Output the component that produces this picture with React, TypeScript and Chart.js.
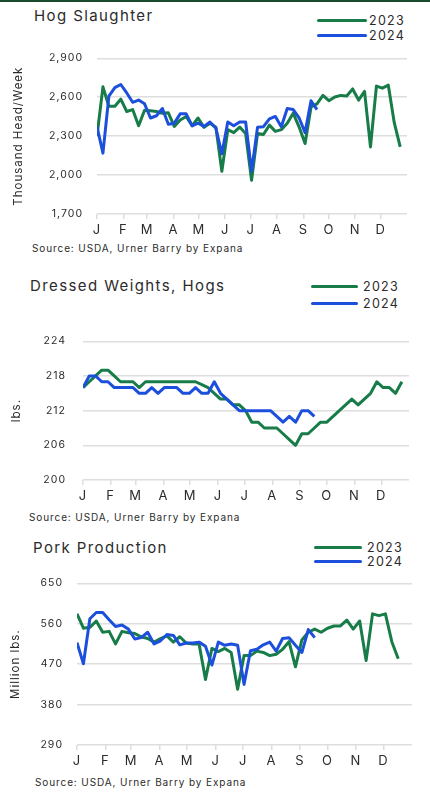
import React, { useEffect, useRef } from "react";
import { Chart, registerables } from "chart.js";

Chart.register(...registerables);

const FONT = "Inter, 'Noto Sans', sans-serif";
const TEXT = "#2b2b2b";
const GREEN = "#177c47";
const BLUE = "#1c4fdc";
const GRID = "#dedede";

// ---- shared x axis (weeks over a year, labelled by month) ----
const MONTH_START_DAYS = [0, 31, 59, 90, 120, 151, 181, 212, 243, 273, 304, 334];
const MONTH_LABELS = ["J", "F", "M", "A", "M", "J", "J", "A", "S", "O", "N", "D"];
const DAYS_PER_WEEK = 7;
const YEAR_DAYS = 365;
const SERIES_LABELS = ["2023", "2024"];

// ---- Hog Slaughter (thousand head / week) ----
const slaughterYTicks = [1700, 2000, 2300, 2600, 2900];
const slaughter2023 = [
  2300, 2680, 2530, 2530, 2585, 2490, 2505, 2380, 2500, 2496, 2490, 2477, 2480,
  2375, 2425, 2452, 2380, 2440, 2368, 2400, 2368, 2030, 2350, 2327, 2370, 2320,
  1960, 2320, 2313, 2385, 2337, 2350, 2400, 2477, 2370, 2243, 2525, 2549, 2614,
  2573, 2602, 2614, 2610, 2664, 2578, 2645, 2217, 2686, 2670, 2693, 2404, 2217,
];
const slaughter2024 = [
  2373, 2169, 2609, 2674, 2698, 2633, 2561, 2578, 2549, 2440, 2457, 2513, 2392,
  2400, 2472, 2472, 2380, 2400, 2375, 2409, 2361, 2164, 2409, 2380, 2409, 2409,
  2030, 2368, 2373, 2433, 2452, 2373, 2513, 2505, 2440, 2327, 2573, 2505,
];

// ---- Dressed Weights, Hogs (lbs.) ----
const weightYTicks = [200, 206, 212, 218, 224];
const weights2023 = [
  216, 217, 218, 219, 219, 218, 217, 217, 217, 216, 217, 217, 217, 217, 217, 217,
  217, 217, 217, 216.5, 216, 215, 214, 214, 213, 213, 212, 210, 210, 209, 209,
  209, 208, 207, 206, 208, 208, 209, 210, 210, 211, 212, 213, 214, 213, 214, 215,
  217, 216, 216, 215, 217,
];
const weights2024 = [
  216, 218, 218, 217, 217, 216, 216, 216, 216, 215, 215, 216, 215, 216, 216, 216,
  215, 215, 216, 215, 215, 217, 215, 214, 213, 212, 212, 212, 212, 212, 212, 211,
  210, 211, 210, 212, 212, 211,
];

// ---- Pork Production (million lbs.) ----
const porkYTicks = [290, 380, 470, 560, 650];
const pork2023 = [
  582, 550, 552, 566, 541, 543, 515, 543, 540, 538, 531, 527, 519, 527, 533, 519,
  531, 517, 515, 515, 436, 505, 498, 505, 496, 414, 489, 489, 499, 496, 489, 492,
  503, 520, 464, 524, 541, 548, 541, 550, 555, 555, 568, 548, 566, 478, 582, 578,
  582, 520, 482,
];
const pork2024 = [
  518, 471, 571, 585, 585, 569, 554, 557, 548, 526, 529, 541, 515, 522, 536, 534,
  513, 517, 517, 519, 510, 468, 519, 512, 515, 512, 425, 500, 503, 513, 519, 499,
  527, 529, 512, 496, 547, 529,
];

const SOURCE = "Source: USDA, Urner Barry by Expana";

const spacingPlugin = {
  id: "letterSpacingPlugin",
  beforeUpdate(chart: any) {
    chart.ctx.letterSpacing = "1px";
  },
  beforeLayout(chart: any) {
    chart.ctx.letterSpacing = "1px";
  },
  beforeDraw(chart: any) {
    chart.ctx.letterSpacing = "1px";
  },
};

type PanelProps = {
  top: number;
  height: number;
  plotLeft: number;
  plotRight: number;
  padTop: number;
  yTicks: number[];
  yTitle: string;
  yTitlePad: number;
  tickPad: number;
  green: number[];
  blue: number[];
  title: string;
  titleLeft: number;
  titleY: number;
  legendLineLeft: number;
  legendLineRight: number;
  legendTextLeft: number;
  legendY: number[];
  sourceLeft: number;
  sourceY: number;
};

function toPoints(values: number[]) {
  return values.map((v, i) => ({ x: i * DAYS_PER_WEEK, y: v }));
}

function Panel(p: PanelProps) {
  const ref = useRef<HTMLCanvasElement | null>(null);
  useEffect(() => {
    if (!ref.current) return;
    const chart = new Chart(ref.current, {
      type: "line",
      data: {
        datasets: [
          {
            label: SERIES_LABELS[0],
            data: toPoints(p.green),
            borderColor: GREEN,
            backgroundColor: GREEN,
            borderWidth: 3,
            pointRadius: 0,
            tension: 0,
            borderJoinStyle: "round",
            order: 1,
          },
          {
            label: SERIES_LABELS[1],
            data: toPoints(p.blue),
            borderColor: BLUE,
            backgroundColor: BLUE,
            borderWidth: 3,
            pointRadius: 0,
            tension: 0,
            borderJoinStyle: "round",
            order: 0,
          },
        ],
      },
      options: {
        animation: false,
        responsive: true,
        maintainAspectRatio: false,
        layout: {
          padding: { top: p.padTop, left: 0, right: 430 - p.plotRight, bottom: 0 },
        },
        plugins: {
          legend: { display: false },
          tooltip: { enabled: false },
        },
        scales: {
          x: {
            type: "linear",
            min: 0,
            max: YEAR_DAYS,
            afterBuildTicks: (s: any) => {
              s.ticks = MONTH_START_DAYS.map((v) => ({ value: v }));
            },
            afterFit: (s: any) => {
              s.height = 26;
            },
            ticks: {
              autoSkip: false,
              maxRotation: 0,
              padding: 3,
              color: TEXT,
              font: { family: FONT, size: 13 },
              callback: (_v: any, i: number) => MONTH_LABELS[i],
            },
            grid: {
              drawOnChartArea: false,
              drawTicks: true,
              tickLength: 5,
              color: GRID,
              lineWidth: 1.5,
            },
            border: { display: false },
          },
          y: {
            type: "linear",
            min: p.yTicks[0],
            max: p.yTicks[p.yTicks.length - 1],
            afterBuildTicks: (s: any) => {
              s.ticks = p.yTicks.map((v) => ({ value: v }));
            },
            afterFit: (s: any) => {
              s.width = p.plotLeft;
            },
            ticks: {
              padding: p.tickPad,
              color: TEXT,
              font: { family: FONT, size: 10.5 },
              callback: (v: any) => Number(v).toLocaleString("en-US"),
            },
            grid: { color: GRID, lineWidth: 1.5, drawTicks: false },
            border: { display: false },
            title: {
              display: true,
              text: p.yTitle,
              color: TEXT,
              font: { family: FONT, size: 11.5 },
              padding: { top: p.yTitlePad, bottom: 0 },
            },
          },
        },
      },
      plugins: [spacingPlugin],
    } as any);
    return () => chart.destroy();
  }, []);

  const titleSize = 15;
  const legendSize = 12.5;
  const sourceSize = 10;
  return (
    <>
      <div
        style={{
          position: "absolute",
          left: p.titleLeft,
          top: p.titleY - titleSize * 0.6,
          fontFamily: FONT,
          fontSize: titleSize,
          lineHeight: `${titleSize * 1.2}px`,
          letterSpacing: "1.4px",
          color: TEXT,
          whiteSpace: "nowrap",
        }}
      >
        {p.title}
      </div>
      {SERIES_LABELS.map((lab, k) => (
        <React.Fragment key={lab}>
          <div
            style={{
              position: "absolute",
              left: p.legendLineLeft,
              top: p.legendY[k] - 1.5,
              width: p.legendLineRight - p.legendLineLeft,
              height: 3,
              borderRadius: 1.5,
              background: k === 0 ? GREEN : BLUE,
            }}
          />
          <div
            style={{
              position: "absolute",
              left: p.legendTextLeft,
              top: p.legendY[k] - legendSize * 0.6,
              fontFamily: FONT,
              fontSize: legendSize,
              lineHeight: `${legendSize * 1.2}px`,
              letterSpacing: "1.3px",
              color: TEXT,
              whiteSpace: "nowrap",
            }}
          >
            {lab}
          </div>
        </React.Fragment>
      ))}
      <div
        style={{
          position: "absolute",
          left: 0,
          top: p.top,
          width: 430,
          height: p.height,
        }}
      >
        <canvas ref={ref} style={{ display: "block" }} />
      </div>
      <div
        style={{
          position: "absolute",
          left: p.sourceLeft,
          top: p.sourceY - sourceSize * 0.6,
          fontFamily: FONT,
          fontSize: sourceSize,
          lineHeight: `${sourceSize * 1.2}px`,
          letterSpacing: "0.9px",
          color: TEXT,
          whiteSpace: "nowrap",
        }}
      >
        {SOURCE}
      </div>
    </>
  );
}

export default function App() {
  useEffect(() => {
    document.body.style.margin = "0";
  }, []);
  return (
    <div
      style={{
        position: "relative",
        width: 430,
        height: 792,
        background: "#ffffff",
        overflow: "hidden",
      }}
    >
      <div
        style={{
          position: "absolute",
          left: 0,
          top: 0,
          width: 430,
          height: 2,
          background: "#184a2c",
        }}
      />
      <Panel
        top={38}
        height={202}
        plotLeft={97}
        plotRight={407}
        padTop={10}
        yTicks={slaughterYTicks}
        yTitle="Thousand Head/Week"
        yTitlePad={12}
        tickPad={14}
        green={slaughter2023}
        blue={slaughter2024}
        title="Hog Slaughter"
        titleLeft={34}
        titleY={15.5}
        legendLineLeft={317}
        legendLineRight={367}
        legendTextLeft={369}
        legendY={[20, 35.5]}
        sourceLeft={32}
        sourceY={248}
      />
      <Panel
        top={318}
        height={188}
        plotLeft={83}
        plotRight={409}
        padTop={9}
        yTicks={weightYTicks}
        yTitle="lbs."
        yTitlePad={10}
        tickPad={17}
        green={weights2023}
        blue={weights2024}
        title="Dressed Weights, Hogs"
        titleLeft={30}
        titleY={286}
        legendLineLeft={311}
        legendLineRight={358}
        legendTextLeft={363}
        legendY={[286, 303]}
        sourceLeft={29}
        sourceY={517}
      />
      <Panel
        top={563}
        height={208}
        plotLeft={77}
        plotRight={412}
        padTop={10}
        yTicks={porkYTicks}
        yTitle="Million lbs."
        yTitlePad={9}
        tickPad={14}
        green={pork2023}
        blue={pork2024}
        title="Pork Production"
        titleLeft={33}
        titleY={548}
        legendLineLeft={314}
        legendLineRight={362}
        legendTextLeft={367}
        legendY={[547, 561]}
        sourceLeft={35}
        sourceY={782}
      />
    </div>
  );
}
